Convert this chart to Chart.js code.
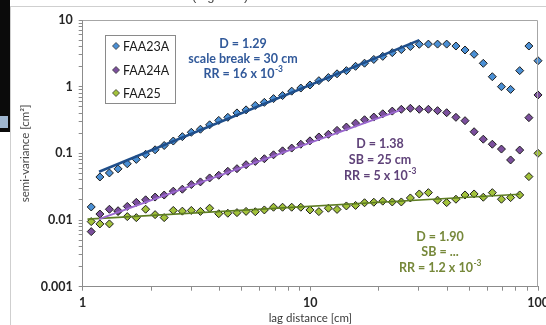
<!DOCTYPE html>
<html><head><meta charset="utf-8">
<script src="https://cdn.jsdelivr.net/npm/chart.js@4.4.0/dist/chart.umd.min.js"></script>
<style>
html,body{margin:0;padding:0;background:#fff;}
#wrap{position:relative;width:546px;height:325px;overflow:hidden;}
canvas{position:absolute;left:0;top:0;}
#cap{position:absolute;left:192px;top:-12px;font:13px 'Liberation Sans',sans-serif;color:#444;white-space:nowrap;}
</style></head><body>
<div id="wrap"><canvas id="c" width="546" height="325"></canvas><div id="cap">(Figure 5)</div></div>
<script>
// ---- data ----
const lagDistance = [1.09,1.19,1.31,1.43,1.57,1.72,1.89,2.08,2.28,2.50,2.74,3.00,3.29,3.61,3.96,4.34,4.76,5.22,5.73,6.28,6.89,7.55,8.28,9.08,9.96,10.9,12.0,13.1,14.4,15.8,17.3,19.0,20.8,22.9,25.1,27.5,30.1,33.0,36.2,39.7,43.6,47.8,52.4,57.5,63.0,69.1,75.8,83.1,91.2,100];
const faa23a = [0.0157,0.0442,0.0508,0.0585,0.0697,0.0812,0.0967,0.113,0.131,0.153,0.178,0.207,0.230,0.268,0.312,0.347,0.404,0.449,0.523,0.582,0.662,0.736,0.857,0.954,1.06,1.23,1.37,1.56,1.74,2.02,2.25,2.56,2.85,3.24,3.60,4.00,4.32,4.35,4.35,4.35,4.07,3.55,3.06,2.24,1.41,1.00,0.91,1.74,4.07,2.45];
const faa24a = [0.0067,0.0123,0.0145,0.0138,0.0160,0.0184,0.0201,0.0221,0.0237,0.0271,0.0290,0.0340,0.0373,0.0428,0.0469,0.0538,0.0589,0.0676,0.0757,0.0830,0.0951,0.109,0.120,0.137,0.154,0.176,0.193,0.221,0.248,0.284,0.319,0.350,0.392,0.430,0.458,0.474,0.458,0.458,0.437,0.407,0.347,0.309,0.211,0.163,0.137,0.116,0.0796,0.112,0.343,0.751];
const faa25 = [0.00947,0.00875,0.00875,0.01337,0.01125,0.01086,0.01452,0.01205,0.01086,0.01393,0.01359,0.01393,0.01346,0.01503,0.01242,0.01264,0.01291,0.01346,0.01331,0.01416,0.01556,0.01556,0.01556,0.01556,0.01416,0.01337,0.01503,0.01442,0.01626,0.01656,0.01816,0.01849,0.01919,0.01866,0.01866,0.02143,0.02460,0.02576,0.01982,0.01824,0.02051,0.02377,0.02460,0.02198,0.02576,0.02051,0.02168,0.02377,0.04477,0.1002];
// power-law fits (end points of the drawn trend lines)
const fit23aX = [1.18, 30.1], fit23aY = [0.053, 5.0];
const fit24aX = [1.18, 25.0], fit24aY = [0.0103, 0.448];
const fit25X  = [1.05, 83.0], fit25Y  = [0.0103, 0.0244];
const seriesNames = ['FAA23A','FAA24A','FAA25'];
const xTickValues = [1,2,3,4,5,6,7,8,9,10,20,30,40,50,60,70,80,90,100];
const xTickLabels = {1:'1',10:'10',100:'100'};
const yTickValues = [0.001,0.002,0.003,0.004,0.005,0.006,0.007,0.008,0.009,0.01,0.02,0.03,0.04,0.05,0.06,0.07,0.08,0.09,0.1,0.2,0.3,0.4,0.5,0.6,0.7,0.8,0.9,1,2,3,4,5,6,7,8,9,10];
const yTickLabels = {0.001:'0.001',0.01:'0.01',0.1:'0.1',1:'1',10:'10'};
const notes23a = ['D = 1.29','scale break = 30 cm','RR = 16 x 10|-3'];
const notes24a = ['D = 1.38','SB = 25 cm','RR = 5 x 10|-3'];
const notes25  = ['D = 1.90','SB = ...','RR = 1.2 x 10|-3'];

const colors = {blue:'#4a8fd4', purple:'#7b4f9d', green:'#a2c23a'};
const pts = (xs, ys) => xs.map((x,i)=>({x, y: ys[i]}));

const scatterDs = (label, ys, fill) => ({
  type:'scatter', label, data: pts(lagDistance, ys),
  pointStyle:'rectRot', pointRadius:4, pointBackgroundColor: fill,
  pointBorderColor:'#1e1e1e', pointBorderWidth:1, showLine:false, clip:false, order:2
});
const fitDs = (xs, ys, color, w) => ({
  type:'line', data: pts(xs, ys), borderColor: color, borderWidth: w,
  pointRadius:0, fill:false, tension:0, order:1
});

const framePlugin = {
  id:'frame',
  beforeDraw(chart){
    const ctx = chart.ctx;
    ctx.save();
    ctx.fillStyle = '#fff'; ctx.fillRect(0,0,546,325);
    ctx.fillStyle = '#0b0b0b'; ctx.fillRect(0,0,10,132);
    ctx.fillStyle = '#9fb6cf'; ctx.fillRect(0,116,8,12);
    ctx.strokeStyle = '#cfcfcf'; ctx.lineWidth = 1;
    ctx.strokeRect(10.5,6.5,560,340);
    ctx.restore();
  },
  afterDraw(chart){
    const ctx = chart.ctx, a = chart.chartArea;
    const xs = chart.scales.x, ys = chart.scales.y;
    ctx.save();
    ctx.strokeStyle = '#a6a6a6'; ctx.lineWidth = 1;
    ctx.beginPath();
    ctx.moveTo(a.left, Math.round(a.top)+0.5); ctx.lineTo(Math.round(a.right)-0.5, Math.round(a.top)+0.5);
    ctx.lineTo(Math.round(a.right)-0.5, a.bottom);
    ctx.stroke();
    // legend
    ctx.strokeStyle = '#8a8a8a'; ctx.fillStyle = '#fff';
    ctx.fillRect(105.5,35.5,70,68); ctx.strokeRect(105.5,35.5,70,68);
    const lc = [colors.blue, colors.purple, colors.green];
    const ly = [46, 70, 93];
    ctx.font = '12.5px Lato'; ctx.textBaseline = 'middle'; ctx.textAlign = 'left';
    seriesNames.forEach((n,i)=>{
      const cx = 116, cy = ly[i], r = 3.5;
      ctx.beginPath(); ctx.moveTo(cx-r,cy); ctx.lineTo(cx,cy-r); ctx.lineTo(cx+r,cy); ctx.lineTo(cx,cy+r); ctx.closePath();
      ctx.fillStyle = lc[i]; ctx.fill(); ctx.strokeStyle = '#333'; ctx.lineWidth = 0.8; ctx.stroke();
      ctx.fillStyle = '#1a1a1a'; ctx.fillText(n, 123, cy+0.5);
    });
    // annotations
    const drawNote = (lines, cx, y0, dy, color) => {
      ctx.fillStyle = color; ctx.textBaseline = 'middle';
      lines.forEach((t,i)=>{
        const parts = t.split('|');
        ctx.font = 'bold 12.5px Lato';
        const w0 = ctx.measureText(parts[0]).width;
        let w1 = 0;
        if (parts[1]) { ctx.font = 'bold 8.5px Lato'; w1 = ctx.measureText(parts[1]).width; }
        const x0 = cx - (w0 + w1)/2, y = y0 + i*dy;
        ctx.font = 'bold 12.5px Lato'; ctx.textAlign = 'left';
        ctx.fillText(parts[0], x0, y);
        if (parts[1]) { ctx.font = 'bold 8.5px Lato'; ctx.fillText(parts[1], x0 + w0 + 0.5, y - 4.5); }
      });
    };
    drawNote(notes23a, 243, 43.5, 15, '#31599a');
    drawNote(notes24a, 380, 143.5, 16, '#5f4279');
    drawNote(notes25, 440, 236.5, 15.5, '#76883a');
    ctx.restore();
  }
};

new Chart(document.getElementById('c'), {
  type:'scatter',
  data:{ datasets:[
    scatterDs(seriesNames[0], faa23a, colors.blue),
    scatterDs(seriesNames[1], faa24a, colors.purple),
    scatterDs(seriesNames[2], faa25, colors.green),
    fitDs(fit23aX, fit23aY, '#1f4e8a', 2.5),
    fitDs(fit24aX, fit24aY, '#9a67cf', 2),
    fitDs(fit25X, fit25Y, '#5d7c22', 1.6)
  ]},
  options:{
    responsive:false, animation:false, devicePixelRatio:1,
    layout:{padding:{left:12, top:20, right:8, bottom:0}},
    plugins:{legend:{display:false}, tooltip:{enabled:false}},
    scales:{
      x:{ type:'logarithmic', min:1, max:100, position:'bottom',
        grid:{drawOnChartArea:false, drawTicks:true, tickLength:4, color:'#8c8c8c'},
        border:{color:'#8c8c8c', width:1},
        ticks:{autoSkip:false, maxRotation:0, padding:5, color:'#262626', font:{family:'Lato', size:12.5, weight:'bold'},
          callback:(v)=> xTickLabels[v] || ''},
        afterBuildTicks:(s)=>{ s.ticks = xTickValues.map(v=>({value:v})); },
        afterFit:(s)=>{ s.height = 38.3; s.paddingLeft = 0; s.paddingRight = 0; },
        title:{display:true, text:'lag distance [cm]', color:'#3a3a3a', font:{family:'Lato', size:11.5}, padding:{top:0,bottom:0}}
      },
      y:{ type:'logarithmic', min:0.001, max:10,
        grid:{drawOnChartArea:false, drawTicks:true, tickLength:4, color:'#8c8c8c'},
        border:{color:'#8c8c8c', width:1},
        ticks:{autoSkip:false, padding:6, color:'#262626', font:{family:'Lato', size:12.5, weight:'bold'},
          callback:(v)=> yTickLabels[v] || ''},
        afterBuildTicks:(s)=>{ s.ticks = yTickValues.map(v=>({value:v})); },
        afterFit:(s)=>{ s.width = 70.7; s.paddingTop = 0; s.paddingBottom = 0; },
        title:{display:true, text:'semi-variance [cm²]', color:'#4a4a4a', font:{family:'Lato', size:11.5}, padding:{top:6,bottom:0}}
      }
    }
  },
  plugins:[framePlugin]
});
</script>
</body></html>
